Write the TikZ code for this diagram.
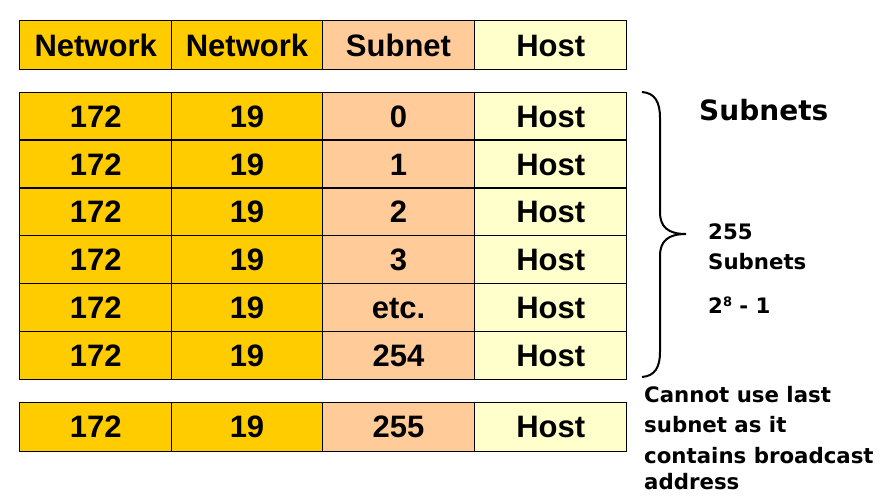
\documentclass[tikz,border=0pt]{standalone}
\usepackage{fontspec}
\setmainfont{Liberation Sans}
\newfontfamily\verd{DejaVu Sans}
\definecolor{netc}{HTML}{FFCC00}
\definecolor{subc}{HTML}{FFCC99}
\definecolor{hostc}{HTML}{FFFFCC}
\begin{document}
\begin{tikzpicture}[x=1pt,y=-1pt,
  cell/.style={draw=black, line width=1.3pt, inner sep=0pt, outer sep=0pt,
    text height=22.2pt, text depth=0pt,
    font=\bfseries\fontsize{31}{37}\selectfont},
  c1/.style={cell, fill=netc, minimum width=152pt},
  c2/.style={cell, fill=netc, minimum width=150.6pt},
  c3/.style={cell, fill=subc, minimum width=152.4pt},
  c4/.style={cell, fill=hostc, minimum width=152pt},
  side/.style={anchor=base west, inner sep=0pt, font=\verd\bfseries\fontsize{21.3}{26}\selectfont}]
\useasboundingbox[fill=white] (0,0) rectangle (886,498);
% header
\node[c1, minimum height=48.6pt] (h1) at (95.7,45) {Network};
\node[c2, minimum height=48.6pt] (h2) at (247,45) {Network};
\node[c3, minimum height=48.6pt] (h3) at (398.5,45) {Subnet};
\node[c4, minimum height=48.6pt] (h4) at (550.7,45) {Host};
% subnet rows
\foreach \i/\s in {0/0,1/1,2/2,3/3,4/etc.,5/254} {
  \pgfmathsetmacro\cy{116.2+\i*47.83}
  \node[c1, minimum height=47.83pt] (a\i) at (95.7,\cy) {172};
  \node[c2, minimum height=47.83pt] (b\i) at (247,\cy) {19};
  \node[c3, minimum height=47.83pt] (s\i) at (398.5,\cy) {\s};
  \node[c4, minimum height=47.83pt] (t\i) at (550.7,\cy) {Host};
}
% last row
\node[c1, minimum height=49pt] (la) at (95.7,426.8) {172};
\node[c2, minimum height=49pt] (lb) at (247,426.8) {19};
\node[c3, minimum height=49pt] (ls) at (398.5,426.8) {255};
\node[c4, minimum height=49pt] (lt) at (550.7,426.8) {Host};
% brace
\draw[line width=2pt] (642,92) .. controls (655,93) and (660,102) .. (660,118)
  -- (660,212) .. controls (660,227) and (668,234) .. (686,234)
  .. controls (668,234) and (660,241) .. (660,256)
  -- (660,352) .. controls (660,367) and (655,376) .. (642,377);
% texts
\node[anchor=base west, inner sep=0pt, font=\verd\bfseries\fontsize{28}{34}\selectfont] (title) at (699,120) {Subnets};
\node[side] (cnt) at (708,239) {255};
\node[side] (cntb) at (708,269) {Subnets};
\node[side] (pow) at (708,313) {2\raisebox{7pt}{\fontsize{13}{13}\selectfont 8} - 1};
\node[side] (n1) at (644,402) {Cannot use last};
\node[side] (n2) at (644,432) {subnet as it};
\node[side] (n3) at (644,463) {contains broadcast};
\node[side] (n4) at (644,489) {address};
\end{tikzpicture}
\end{document}
